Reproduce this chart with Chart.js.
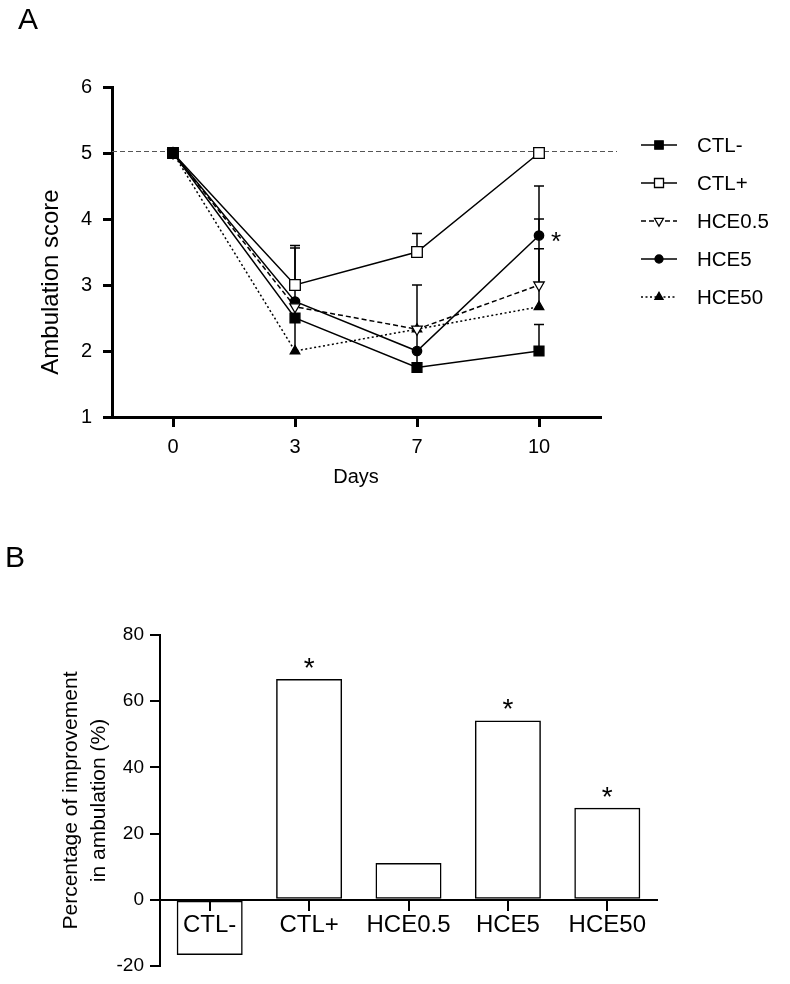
<!DOCTYPE html>
<html>
<head>
<meta charset="utf-8">
<script src="https://cdn.jsdelivr.net/npm/chart.js@4.4.1/dist/chart.umd.min.js"></script>
<style>
  html, body { margin: 0; padding: 0; background: #fff; }
  body { width: 790px; height: 984px; position: relative; overflow: hidden; }
  #chartA { position: absolute; left: 0; top: 0; }
  #chartB { position: absolute; left: 0; top: 530px; }
</style>
</head>
<body>
<canvas id="chartA" width="790" height="530"></canvas>
<canvas id="chartB" width="790" height="454"></canvas>
<script>
// Panel A - ambulation score by day
const days = ['0', '3', '7', '10'];
const ctlMinus = [5, 2.5, 1.75, 2.0];
const ctlPlus = [5, 3.0, 3.5, 5.0];
const hce05 = [5, 2.67, 2.33, 3.0];
const hce5 = [5, 2.75, 2.0, 3.75];
const hce50 = [5, 2.0, 2.33, 2.67];

// upper error bars (only the upper half is drawn)
const ctlMinusErr = [0, 0, 1.25, 0.4];
const ctlPlusErr = [0, 0.6, 0.28, 0];
const hce05Err = [0, 0, 0, 1.0];
const hce5Err = [0, 0, 0, 0.75];
const hce50Err = [0, 1.56, 0, 0.88];

const scoreTicks = [1, 2, 3, 4, 5, 6];
const baseline = 5.03;

// Panel B - improvement in ambulation
const groups = ['CTL-', 'CTL+', 'HCE0.5', 'HCE5', 'HCE50'];
const improvement = [-16.7, 66.7, 11.1, 54.2, 27.8];
const significant = [false, true, false, true, true];

const FONT = '"Liberation Sans", Arial, sans-serif';
Chart.defaults.font.family = FONT;
Chart.defaults.color = '#000';

const errorsA = [ctlMinusErr, ctlPlusErr, hce05Err, hce5Err, hce50Err];

function line(label, data, dash, style, radius, fill, rotation) {
    return {
        label: label,
        data: data,
        borderColor: '#000',
        borderWidth: 1.5,
        borderDash: dash,
        pointStyle: style,
        pointRadius: radius,
        pointRotation: rotation || 0,
        pointBackgroundColor: fill,
        pointBorderColor: '#000',
        pointBorderWidth: 1.3,
        tension: 0,
        fill: false
    };
}

// extras for panel A: reference line, error bars, legend, labels
const panelA = {
    id: 'panelA',
    beforeDatasetsDraw(chart) {
        const { ctx, chartArea, scales: { x, y } } = chart;
        ctx.save();
        // dashed baseline
        ctx.strokeStyle = '#555';
        ctx.lineWidth = 1;
        ctx.setLineDash([5, 3]);
        const yb = Math.round(y.getPixelForValue(baseline)) + 0.5;
        ctx.beginPath();
        ctx.moveTo(chartArea.left, yb);
        ctx.lineTo(chartArea.right + 17, yb);
        ctx.stroke();
        ctx.setLineDash([]);

        // error bars
        ctx.strokeStyle = '#000';
        ctx.lineWidth = 1.5;
        chart.data.datasets.forEach((ds, i) => {
            errorsA[i].forEach((e, j) => {
                if (!e) return;
                const px = x.getPixelForValue(j);
                const y0 = y.getPixelForValue(ds.data[j]);
                const y1 = y.getPixelForValue(ds.data[j] + e);
                ctx.beginPath();
                ctx.moveTo(px, y0);
                ctx.lineTo(px, y1);
                ctx.moveTo(px - 5, y1);
                ctx.lineTo(px + 5, y1);
                ctx.stroke();
            });
        });
        ctx.restore();
    },
    afterDraw(chart) {
        const { ctx, scales: { x, y } } = chart;
        ctx.save();
        ctx.fillStyle = '#000';

        // panel letter
        ctx.font = '30px ' + FONT;
        ctx.textBaseline = 'alphabetic';
        ctx.textAlign = 'left';
        ctx.fillText('A', 18, 29);

        // y axis title
        ctx.save();
        ctx.translate(51, 282);
        ctx.rotate(-Math.PI / 2);
        ctx.font = '24px ' + FONT;
        ctx.textAlign = 'center';
        ctx.textBaseline = 'middle';
        ctx.fillText('Ambulation score', 0, 0);
        ctx.restore();

        // significance mark next to HCE5 on day 10
        ctx.font = '26px ' + FONT;
        ctx.textAlign = 'center';
        const sx = x.getPixelForValue(3) + 17;
        const sy = y.getPixelForValue(hce5[3]);
        ctx.fillText('*', sx, sy + 14.5);

        // legend
        chart.data.datasets.forEach((ds, i) => {
            const ly = 145 + i * 38;
            ctx.strokeStyle = '#000';
            ctx.lineWidth = 1.5;
            ctx.setLineDash(ds.borderDash);
            ctx.beginPath();
            ctx.moveTo(641, ly);
            ctx.lineTo(677, ly);
            ctx.stroke();
            ctx.setLineDash([]);
            ctx.fillStyle = ds.pointBackgroundColor;
            ctx.lineWidth = ds.pointBorderWidth;
            Chart.helpers.drawPoint(ctx, {
                pointStyle: ds.pointStyle,
                rotation: ds.pointRotation,
                radius: ds.pointRadius * 0.85,
                borderWidth: ds.pointBorderWidth
            }, 659, ly);
            ctx.fillStyle = '#000';
            ctx.font = '20.5px ' + FONT;
            ctx.textAlign = 'left';
            ctx.textBaseline = 'middle';
            ctx.fillText(ds.label, 697, ly + 1);
        });
        ctx.restore();
    }
};

new Chart(document.getElementById('chartA'), {
    type: 'line',
    data: {
        labels: days,
        datasets: [
            line('CTL-', ctlMinus, [], 'rect', 7, '#000'),
            line('CTL+', ctlPlus, [], 'rect', 7.5, '#fff'),
            line('HCE0.5', hce05, [5, 3], 'triangle', 6, '#fff', 180),
            line('HCE5', hce5, [], 'circle', 4.7, '#000'),
            line('HCE50', hce50, [2, 2.5], 'triangle', 5.5, '#000')
        ]
    },
    options: {
        responsive: false,
        animation: false,
        layout: { padding: { top: 87, right: 190, bottom: 0, left: 0 } },
        plugins: { legend: { display: false }, tooltip: { enabled: false } },
        scales: {
            x: {
                type: 'category',
                offset: true,
                grid: { drawOnChartArea: false, tickLength: 10, lineWidth: 3, color: '#000' },
                border: { color: '#000', width: 3 },
                ticks: { font: { size: 20 }, padding: 8, color: '#000' },
                title: { display: true, text: 'Days', font: { size: 20 }, padding: { bottom: 41 } },
                afterFit(s) { s.height = 113; }
            },
            y: {
                min: scoreTicks[0],
                max: scoreTicks[scoreTicks.length - 1],
                afterBuildTicks(s) { s.ticks = scoreTicks.map(v => ({ value: v })); },
                grid: { drawOnChartArea: false, tickLength: 9, lineWidth: 3, color: '#000' },
                border: { color: '#000', width: 3 },
                ticks: { font: { size: 20 }, padding: 11, color: '#000' },
                afterFit(s) { s.width = 112; }
            }
        }
    },
    plugins: [panelA]
});

// extras for panel B: letter and significance marks
const panelB = {
    id: 'panelB',
    afterDraw(chart) {
        const { ctx } = chart;
        const meta = chart.getDatasetMeta(0);
        ctx.save();
        ctx.fillStyle = '#000';
        ctx.font = '30px ' + FONT;
        ctx.textAlign = 'left';
        ctx.textBaseline = 'alphabetic';
        ctx.fillText('B', 5, 37);

        ctx.font = '28px ' + FONT;
        ctx.textAlign = 'center';
        meta.data.forEach((bar, i) => {
            if (!significant[i]) return;
            ctx.fillText('*', bar.x, bar.y - 18 + 16);
        });
        ctx.restore();
    }
};

new Chart(document.getElementById('chartB'), {
    type: 'bar',
    data: {
        labels: groups,
        datasets: [{
            data: improvement,
            backgroundColor: 'rgba(255,255,255,0)',
            borderColor: '#000',
            borderWidth: 1.5,
            borderSkipped: false,
            barPercentage: 0.664,
            categoryPercentage: 1
        }]
    },
    options: {
        responsive: false,
        animation: false,
        layout: { padding: { top: 105, right: 133, bottom: 18, left: 0 } },
        plugins: { legend: { display: false }, tooltip: { enabled: false } },
        scales: {
            x: {
                position: { y: 0 },
                grid: { drawOnChartArea: false, offset: false, tickLength: 10, lineWidth: 2, color: '#000' },
                border: { color: '#000', width: 2 },
                ticks: { font: { size: 24 }, padding: 1, color: '#000', maxRotation: 0, autoSkip: false }
            },
            y: {
                min: -20,
                max: 80,
                ticks: { stepSize: 20, font: { size: 19 }, padding: 6, color: '#000' },
                grid: { drawOnChartArea: false, tickLength: 10, lineWidth: 2, color: '#000' },
                border: { color: '#000', width: 2 },
                title: {
                    display: true,
                    text: ['Percentage of improvement', 'in ambulation (%)'],
                    font: { size: 21, lineHeight: 1.333 },
                    padding: { top: 57 }
                },
                afterFit(s) { s.width = 160; }
            }
        }
    },
    plugins: [panelB]
});
</script>
</body>
</html>
